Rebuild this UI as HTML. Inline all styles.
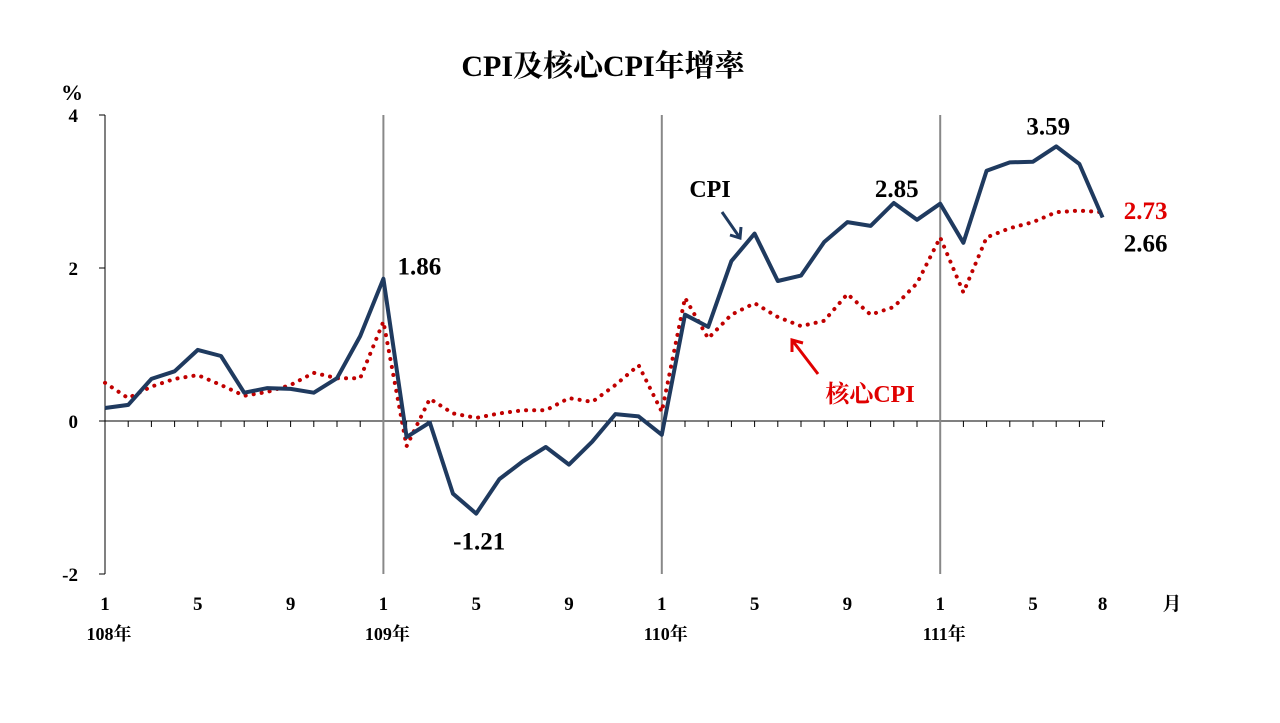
<!DOCTYPE html>
<html><head><meta charset="utf-8">
<style>
body{margin:0;background:#fff;}
svg{display:block;font-family:"Liberation Serif","Noto Serif CJK SC",serif;font-weight:bold;}
</style></head>
<body>
<svg id="chart" width="1280" height="723" viewBox="0 0 1280 723">
<text x="603" y="76" font-size="30" text-anchor="middle">CPI及核心CPI年增率</text>
<text x="72" y="100" font-size="22" text-anchor="middle">%</text>
<text x="1172" y="610" font-size="19" text-anchor="middle">月</text>
<g id="axes"></g>
<g id="series"></g>
</svg>
<script>
const yTicks=[4,2,0,-2];
const monthLabels=["1","5","9","1","5","9","1","5","9","1","5","8"];
const monthLabelIdx=[0,4,8,12,16,20,24,28,32,36,40,43];
const yearLabels=["108年","109年","110年","111年"];
const cpi=[0.17,0.21,0.55,0.65,0.93,0.85,0.37,0.43,0.42,0.37,0.56,1.11,
1.86,-0.21,-0.02,-0.95,-1.21,-0.76,-0.53,-0.34,-0.57,-0.27,0.09,0.06,
-0.18,1.39,1.23,2.09,2.45,1.83,1.90,2.34,2.60,2.55,2.85,2.63,
2.84,2.33,3.27,3.38,3.39,3.59,3.36,2.66];
const core=[0.5,0.3,0.45,0.55,0.6,0.47,0.33,0.38,0.47,0.63,0.56,0.56,
1.30,-0.33,0.29,0.1,0.04,0.1,0.14,0.14,0.30,0.25,0.47,0.73,
0.12,1.61,1.08,1.39,1.54,1.36,1.24,1.31,1.66,1.39,1.49,1.80,
2.40,1.68,2.40,2.52,2.60,2.73,2.75,2.73];
const NS="http://www.w3.org/2000/svg";
const x=i=>105+i*23.2;
const y=v=>421-v*76.5;
function mk(tag,attrs,parent,txt){const e=document.createElementNS(NS,tag);for(const k in attrs)e.setAttribute(k,attrs[k]);if(txt!==undefined)e.textContent=txt;parent.appendChild(e);return e;}
const ax=document.getElementById('axes'),sr=document.getElementById('series');
let e=mk('line',{x1:105,y1:y(4),x2:105,y2:y(-2),stroke:'#000','stroke-width':1},ax);


e=mk('line',{x1:105,y1:y(0),x2:1105,y2:y(0),stroke:'#000','stroke-width':1},ax);


yTicks.forEach(t=>{
 mk('line',{x1:99,y1:y(t),x2:105,y2:y(t),stroke:'#000'},ax);
 e=mk('text',{x:78,y:y(t)+7,'font-size':19,'text-anchor':'end'},ax,String(t));
 
 
});
for(let i=0;i<=43;i++){mk('line',{x1:x(i),y1:y(0),x2:x(i),y2:y(0)+6,stroke:'#000'},ax);}
[12,24,36].forEach(i=>{
 e=mk('line',{x1:x(i),y1:y(4),x2:x(i),y2:y(-2),stroke:'#888','stroke-width':2},ax);
 
 
});
monthLabels.forEach((l,k)=>{
 e=mk('text',{x:x(monthLabelIdx[k]),y:610,'font-size':19,'text-anchor':'middle'},ax,l);
 
 
});
yearLabels.forEach((l,k)=>{
 e=mk('text',{x:x(k*12)+4,y:640,'font-size':18,'text-anchor':'middle'},ax,l);
 
 
});
const pts=a=>a.map((v,i)=>x(i).toFixed(1)+','+y(v).toFixed(1)).join(' ');
e=mk('polyline',{points:pts(core),fill:'none',stroke:'#c00000','stroke-width':4,'stroke-dasharray':'0.1 8','stroke-linecap':'round'},sr);


e=mk('polyline',{points:pts(cpi),fill:'none',stroke:'#1f3a5f','stroke-width':4,'stroke-linejoin':'round'},sr);


function lab(txt,i,v,dx,dy,col,name){e=mk('text',{x:x(i)+dx,y:y(v)+dy,'font-size':25,fill:col,'text-anchor':'middle'},sr,txt);}
lab(cpi[12].toFixed(2),12,cpi[12],36,-4,'#000','cpi-label-peak-109');
lab(cpi[16].toFixed(2),16,cpi[16],3,36,'#000','cpi-label-low');
lab(cpi[34].toFixed(2),34,cpi[34],3,-6,'#000','cpi-label-110');
lab(cpi[41].toFixed(2),41,cpi[41],-8,-12,'#000','cpi-label-max');
lab(core[43].toFixed(2),43,core[43],43,7,'#e00000','core-label-last');
lab(cpi[43].toFixed(2),43,cpi[43],43,34,'#000','cpi-label-last');
e=mk('text',{x:710,y:197,'font-size':24,'text-anchor':'middle'},sr,'CPI');


mk('line',{x1:722,y1:212,x2:740,y2:238,stroke:'#1f3a5f','stroke-width':3},sr);
mk('polyline',{points:'730,235 740,238 741,227',fill:'none',stroke:'#1f3a5f','stroke-width':3},sr);
e=mk('text',{x:870,y:402,'font-size':24,fill:'#e00000','text-anchor':'middle'},sr,'核心CPI');


mk('line',{x1:818,y1:374,x2:792,y2:340,stroke:'#e00000','stroke-width':3},sr);
mk('polyline',{points:'792,352 792,340 803,343',fill:'none',stroke:'#e00000','stroke-width':3},sr);
</script>
</body></html>
